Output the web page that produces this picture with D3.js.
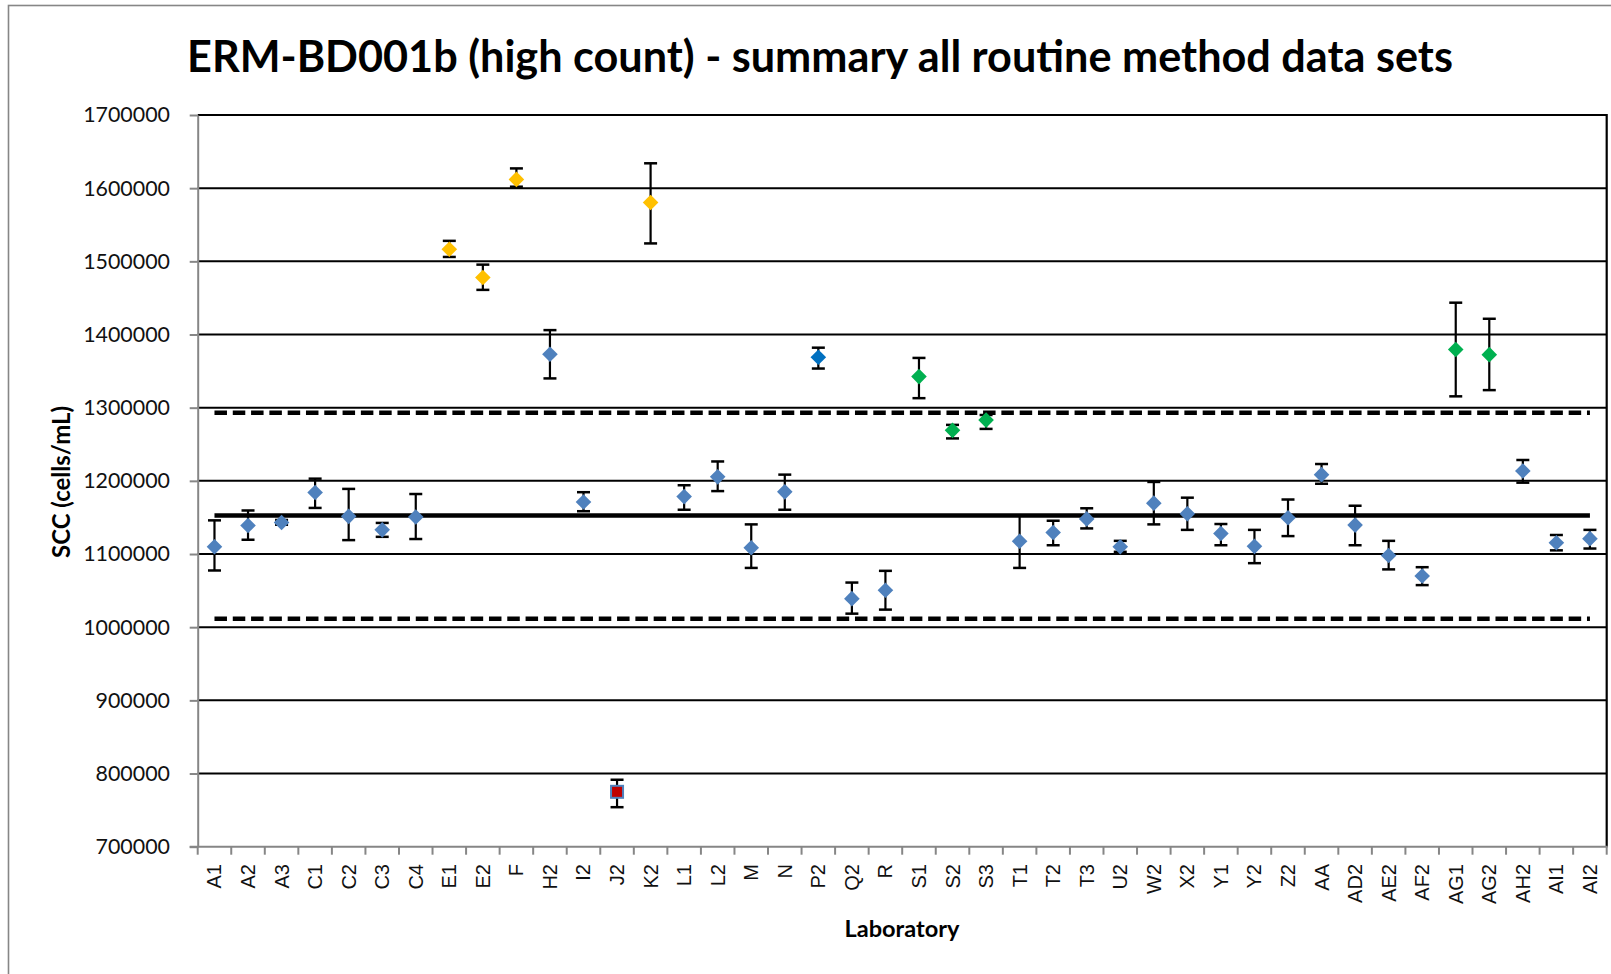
<!DOCTYPE html>
<html lang="en">
<head>
<meta charset="utf-8">
<title>ERM-BD001b (high count) - summary</title>
<script src="https://d3js.org/d3.v7.min.js"></script>
<style>
  body { margin: 0; background: #fff; }
  #chart svg { display: block; }
</style>
</head>
<body>
<div id="chart"></div>
<script>
// laboratory codes along the x axis
var labs = ["A1","A2","A3","C1","C2","C3","C4","E1","E2","F","H2","I2","J2","K2","L1","L2","M","N","P2","Q2","R",
            "S1","S2","S3","T1","T2","T3","U2","W2","X2","Y1","Y2","Z2","AA","AD2","AE2","AF2","AG1","AG2","AH2","AI1","AI2"];

// mean SCC per lab and the ends of its error bar (cells/mL)
var labMean = [1110000,1139000,1143000,1184000,1151500,1133000,1150500,1516500,1478000,1612000,1373000,1171000,775000,1580500,
               1178500,1205500,1108500,1185000,1369000,1039000,1050500,1342500,1269000,1283000,1117500,1129500,1148000,1110000,
               1169500,1155000,1128000,1110500,1149500,1208500,1139500,1098000,1070000,1379500,1372500,1213500,1115500,1121000];
var labUpper = [1146000,1159500,1146500,1203000,1189000,1142500,1182000,1528000,1495500,1627000,1406000,1184500,791500,1634000,
                1194000,1226500,1140500,1208500,1382000,1061000,1077000,1368000,1276500,1290000,1152500,1145500,1162500,1118000,
                1198500,1177000,1141000,1133000,1174500,1223000,1166000,1118000,1082000,1443500,1421500,1228500,1126000,1133000];
var labLower = [1077500,1119500,1140000,1163000,1119000,1123500,1120500,1506000,1461000,1602000,1340000,1158500,754000,1524500,
                1160500,1186000,1081000,1160500,1353500,1018500,1024000,1313000,1258000,1271000,1081000,1112000,1135000,1103000,
                1140500,1133000,1112000,1087500,1124500,1196000,1112000,1079000,1057500,1315500,1324000,1197500,1105000,1107500];

// labs drawn with other marker colours
var orangeLabs = ["E1","E2","F","K2"];
var greenLabs = ["S1","S2","S3","AG1","AG2"];
var darkBlueLabs = ["P2"];
var redLabs = ["J2"];

var yTicks = [700000,800000,900000,1000000,1100000,1200000,1300000,1400000,1500000,1600000,1700000];

// assigned value and its limits
var refMean = 1152500;
var refUpper = 1293200;
var refLower = 1011700;

var width = 1611, height = 974;
var plot = {left: 197.7, right: 1606.7, top: 115, bottom: 846.7};

var svg = d3.select("#chart").append("svg")
    .attr("width", width)
    .attr("height", height);

// outer chart frame
svg.append("rect")
    .attr("x", 8.5).attr("y", 5.5)
    .attr("width", 1700).attr("height", 1100)
    .attr("fill", "#fff")
    .attr("stroke", "#868686")
    .attr("stroke-width", 1.6);

var x = d3.scaleBand().domain(labs).range([plot.left, plot.right]);
var y = d3.scaleLinear().domain([700000, 1700000]).range([plot.bottom, plot.top]);
var cx = function(lab) { return x(lab) + x.bandwidth() / 2; };

function fitText(sel, target) {
  var len = sel.node().getComputedTextLength();
  var fs = parseFloat(sel.attr("font-size"));
  sel.attr("font-size", (fs * target / len).toFixed(2));
}

// gridlines
svg.append("g").selectAll("line")
  .data(yTicks.filter(function(t) { return t > 700000; }))
  .enter().append("line")
    .attr("x1", plot.left).attr("x2", plot.right)
    .attr("y1", function(d) { return y(d); })
    .attr("y2", function(d) { return y(d); })
    .attr("stroke", "#000")
    .attr("stroke-width", 2);

// right frame of the plot area
svg.append("line")
    .attr("x1", plot.right).attr("x2", plot.right)
    .attr("y1", plot.top - 1).attr("y2", plot.bottom)
    .attr("stroke", "#000").attr("stroke-width", 2.2);

// y axis
var yAxis = svg.append("g")
    .attr("transform", "translate(" + plot.left + ",0)")
    .call(d3.axisLeft(y).tickValues(yTicks).tickSize(8).tickSizeOuter(0).tickPadding(19.7).tickFormat(d3.format("d")));
yAxis.select(".domain").attr("stroke", "#868686").attr("stroke-width", 2);
yAxis.selectAll(".tick line").attr("stroke", "#868686").attr("stroke-width", 2);
yAxis.selectAll(".tick text")
    .attr("font-family", "Lato, 'Open Sans', sans-serif")
    .attr("font-size", 21.4)
    .attr("fill", "#111");

// x axis: line, ticks between the categories, rotated labels
var xAxis = svg.append("g");
xAxis.append("line")
    .attr("x1", plot.left - 8).attr("x2", plot.right + 1)
    .attr("y1", plot.bottom).attr("y2", plot.bottom)
    .attr("stroke", "#868686").attr("stroke-width", 2);
xAxis.selectAll(".xtick")
  .data(labs.map(function(l) { return x(l); }).concat([plot.right]))
  .enter().append("line")
    .attr("class", "xtick")
    .attr("x1", function(d) { return d; }).attr("x2", function(d) { return d; })
    .attr("y1", plot.bottom).attr("y2", plot.bottom + 8)
    .attr("stroke", "#868686").attr("stroke-width", 2);
xAxis.selectAll(".xlabel")
  .data(labs)
  .enter().append("text")
    .attr("class", "xlabel")
    .attr("transform", function(d) { return "translate(" + cx(d) + ",864) rotate(-90)"; })
    .attr("dy", "0.35em")
    .attr("text-anchor", "end")
    .attr("font-family", "'Liberation Sans', Arial, sans-serif")
    .attr("font-size", 20)
    .attr("fill", "#111")
    .text(function(d) { return d; });

// reference lines
var xFirst = cx(labs[0]), xLast = cx(labs[labs.length - 1]);
svg.append("line")
    .attr("x1", xFirst).attr("x2", xLast)
    .attr("y1", y(refMean)).attr("y2", y(refMean))
    .attr("stroke", "#000").attr("stroke-width", 4.5);
svg.selectAll(".limit")
  .data([refUpper, refLower])
  .enter().append("line")
    .attr("class", "limit")
    .attr("x1", xFirst).attr("x2", xLast)
    .attr("y1", function(d) { return y(d); })
    .attr("y2", function(d) { return y(d); })
    .attr("stroke", "#000").attr("stroke-width", 4.5)
    .attr("stroke-dasharray", "12.5,5.8");

// error bars
var rows = labs.map(function(l, i) {
  return {lab: l, mean: labMean[i], hi: labUpper[i], lo: labLower[i]};
});
var bars = svg.append("g").selectAll("g").data(rows).enter().append("g");
bars.append("line")
    .attr("x1", function(d) { return cx(d.lab); }).attr("x2", function(d) { return cx(d.lab); })
    .attr("y1", function(d) { return y(d.hi); }).attr("y2", function(d) { return y(d.lo); })
    .attr("stroke", "#000").attr("stroke-width", 2.2);
bars.selectAll(".cap")
  .data(function(d) { return [d.hi, d.lo].map(function(v) { return {lab: d.lab, v: v}; }); })
  .enter().append("line")
    .attr("class", "cap")
    .attr("x1", function(d) { return cx(d.lab) - 6.5; }).attr("x2", function(d) { return cx(d.lab) + 6.5; })
    .attr("y1", function(d) { return y(d.v); }).attr("y2", function(d) { return y(d.v); })
    .attr("stroke", "#000").attr("stroke-width", 2.5);

// markers
function markerColor(lab) {
  if (orangeLabs.indexOf(lab) >= 0) return "#FFC000";
  if (greenLabs.indexOf(lab) >= 0) return "#00B050";
  if (darkBlueLabs.indexOf(lab) >= 0) return "#0070C0";
  return "#4F81BD";
}
var markers = svg.append("g");
markers.selectAll(".diamond")
  .data(rows.filter(function(d) { return redLabs.indexOf(d.lab) < 0; }))
  .enter().append("path")
    .attr("class", "diamond")
    .attr("d", "M0,-7.8L7.8,0L0,7.8L-7.8,0Z")
    .attr("transform", function(d) { return "translate(" + cx(d.lab) + "," + y(d.mean) + ")"; })
    .attr("fill", function(d) { return markerColor(d.lab); });
markers.selectAll(".square")
  .data(rows.filter(function(d) { return redLabs.indexOf(d.lab) >= 0; }))
  .enter().append("rect")
    .attr("class", "square")
    .attr("x", function(d) { return cx(d.lab) - 6; })
    .attr("y", function(d) { return y(d.mean) - 6; })
    .attr("width", 12).attr("height", 12)
    .attr("fill", "#C00000")
    .attr("stroke", "#4F81BD").attr("stroke-width", 2);

// titles
var title = svg.append("text")
    .attr("x", 820).attr("y", 71.7)
    .attr("text-anchor", "middle")
    .attr("font-family", "Lato, 'Open Sans', sans-serif")
    .attr("font-weight", "bold")
    .attr("font-size", 40)
    .attr("fill", "#000")
    .text("ERM-BD001b (high count) - summary all routine method data sets");
fitText(title, 1266);

var yTitle = svg.append("text")
    .attr("transform", "translate(69.5,482) rotate(-90)")
    .attr("text-anchor", "middle")
    .attr("font-family", "Lato, 'Open Sans', sans-serif")
    .attr("font-weight", "bold")
    .attr("font-size", 19)
    .attr("fill", "#000")
    .text("SCC (cells/mL)");
fitText(yTitle, 152);

var xTitle = svg.append("text")
    .attr("x", 902).attr("y", 937)
    .attr("text-anchor", "middle")
    .attr("font-family", "Lato, 'Open Sans', sans-serif")
    .attr("font-weight", "bold")
    .attr("font-size", 19)
    .attr("fill", "#000")
    .text("Laboratory");
fitText(xTitle, 115);
</script>
</body>
</html>
